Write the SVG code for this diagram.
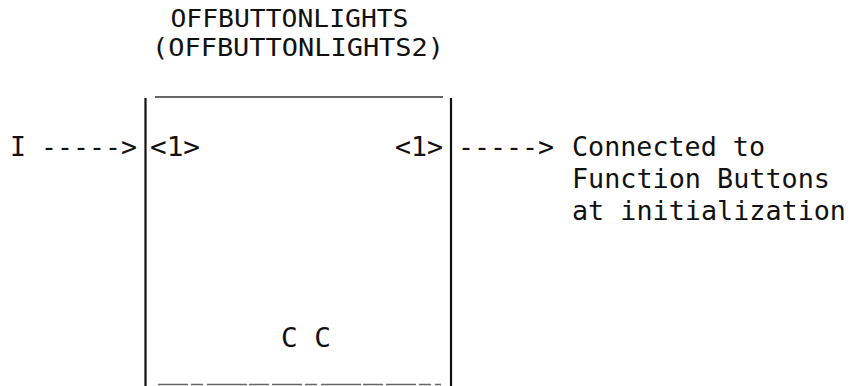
<svg xmlns="http://www.w3.org/2000/svg" width="852" height="386" viewBox="0 0 852 386">
  <style>
    .t { font-family: "DejaVu Sans Mono", "Liberation Mono", monospace; font-size: 26.5px; fill: #111; }
    .title { font-size: 24px; }
    .frame { stroke: #111; stroke-width: 2.2; fill: none; }
    .edge { stroke: #333; stroke-width: 1.4; fill: none; }
    .faint { stroke: #666; stroke-width: 1.6; fill: none; stroke-dasharray: 30 3 12 4 40 2 20 3; }
  </style>
  <rect width="852" height="386" fill="#fff"/>
  <g id="offbuttonlights">
    <text class="t title" x="170.5" y="27" textLength="238" lengthAdjust="spacingAndGlyphs">OFFBUTTONLIGHTS</text>
    <text class="t title" x="152" y="55.5" textLength="292" lengthAdjust="spacingAndGlyphs">(OFFBUTTONLIGHTS2)</text>
    <line class="edge" x1="155" y1="97" x2="443" y2="97"/>
    <line class="frame" x1="145.5" y1="98" x2="145.5" y2="386"/>
    <line class="frame" x1="451" y1="98" x2="451" y2="386"/>
    <line class="faint" x1="158" y1="384.5" x2="441" y2="384.5"/>
    <text class="t" x="150" y="156" textLength="50" lengthAdjust="spacingAndGlyphs">&lt;1&gt;</text>
    <text class="t" x="395" y="156" textLength="48" lengthAdjust="spacingAndGlyphs">&lt;1&gt;</text>
    <text class="t" x="281" y="347" textLength="50" lengthAdjust="spacingAndGlyphs">C C</text>
  </g>
  <g id="input">
    <text class="t" x="10" y="156">I</text>
  </g>
  <g id="connectors">
    <text class="t" x="41" y="156" textLength="96" lengthAdjust="spacingAndGlyphs">-----&gt;</text>
    <text class="t" x="458" y="156" textLength="96" lengthAdjust="spacingAndGlyphs">-----&gt;</text>
  </g>
  <g id="output-note">
    <text class="t" x="572" y="156" textLength="193" lengthAdjust="spacingAndGlyphs">Connected to</text>
    <text class="t" x="572" y="188" textLength="258" lengthAdjust="spacingAndGlyphs">Function Buttons</text>
    <text class="t" x="572" y="220" textLength="274" lengthAdjust="spacingAndGlyphs">at initialization</text>
  </g>
</svg>
